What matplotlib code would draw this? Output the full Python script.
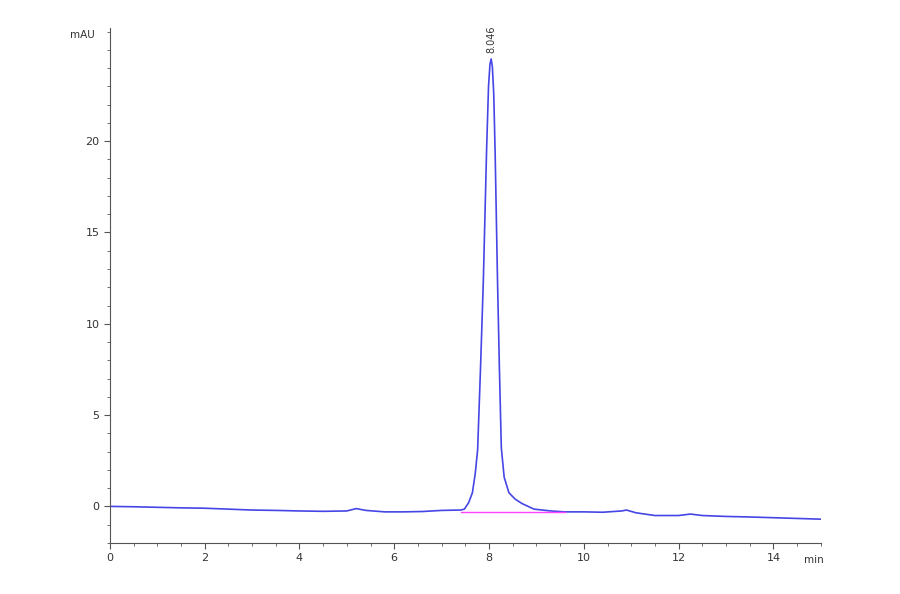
import matplotlib.pyplot as plt
from matplotlib.ticker import MultipleLocator

tiempos = [0.0, 0.5, 1.0, 1.5, 2.0, 2.5, 3.0, 3.5, 4.0, 4.5, 5.0, 5.2, 5.4,
           5.8, 6.2, 6.6, 7.0, 7.4, 7.48, 7.57, 7.65, 7.71, 7.76, 7.82, 7.88,
           7.95, 7.99, 8.02, 8.045, 8.07, 8.1, 8.13, 8.18, 8.22, 8.26, 8.32,
           8.42, 8.55, 8.7, 8.95, 9.3, 9.6, 10.0, 10.4, 10.8, 10.9, 11.1, 11.5,
           12.0, 12.25, 12.5, 13.0, 13.5, 14.0, 14.5, 15.0]
senal = [0.0, -0.02, -0.05, -0.08, -0.1, -0.15, -0.2, -0.22, -0.25, -0.27, -0.25,
         -0.12, -0.22, -0.3, -0.3, -0.28, -0.22, -0.2, -0.15, 0.2, 0.75, 1.8, 3.1,
         7.5, 12.3, 19.6, 23.0, 24.2, 24.5, 24.1, 22.6, 19.3, 12.3, 7.5, 3.2, 1.6,
         0.75, 0.4, 0.15, -0.15, -0.25, -0.3, -0.3, -0.32, -0.25, -0.2, -0.35,
         -0.5, -0.5, -0.42, -0.5, -0.55, -0.58, -0.62, -0.66, -0.7]

# linea base de integracion del pico
base_t = [7.4, 9.6]
base_y = [-0.3, -0.3]

pico_t = 8.046
pico_y = 24.5
pico_txt = "8.046"

fig = plt.figure(figsize=(9, 5.94), dpi=100)
ax = fig.add_axes([0.122, 0.086, 0.79, 0.867])

ax.plot(tiempos, senal, color='#4646e6', lw=1.2)
ax.plot(base_t, base_y, color='#ff40ff', lw=1.0)
ax.text(pico_t, pico_y + 0.3, pico_txt, rotation=90, ha='center', va='bottom',
        fontsize=7, color='#333333')

ax.set_xlim(0, 15)
ax.set_ylim(-2, 26.2)
ax.xaxis.set_major_locator(MultipleLocator(2))
ax.xaxis.set_minor_locator(MultipleLocator(0.5))
ax.yaxis.set_major_locator(MultipleLocator(5))
ax.yaxis.set_minor_locator(MultipleLocator(1))
ax.set_yticks([0, 5, 10, 15, 20])

for s in ['top', 'right']:
    ax.spines[s].set_visible(False)
for s in ['left', 'bottom']:
    ax.spines[s].set_color('#555555')
    ax.spines[s].set_linewidth(0.8)

ax.tick_params(which='both', colors='#555555', labelsize=8, labelcolor='#333333')
ax.tick_params(which='major', length=4)
ax.tick_params(which='minor', length=2)

fig.text(0.078, 0.936, 'mAU', fontsize=7.5, color='#333333')
fig.text(0.893, 0.052, 'min', fontsize=7.5, color='#333333')

plt.savefig('out.png', dpi=100)
